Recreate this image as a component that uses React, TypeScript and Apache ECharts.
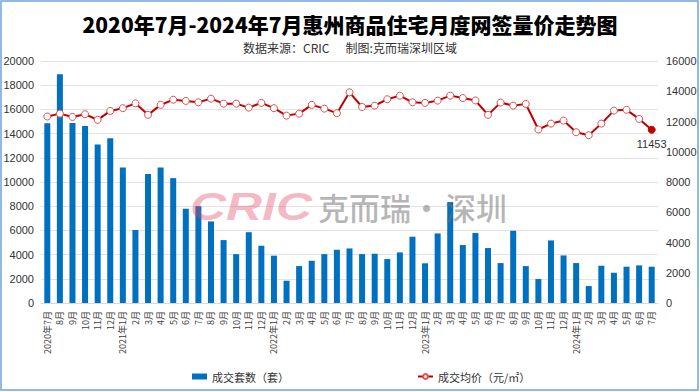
import React, { useEffect, useRef } from "react";
import * as echarts from "echarts";

const months: string[] = [
  "2020年7月", "8月", "9月", "10月", "11月", "12月",
  "2021年1月", "2月", "3月", "4月", "5月", "6月", "7月", "8月", "9月", "10月", "11月", "12月",
  "2022年1月", "2月", "3月", "4月", "5月", "6月", "7月", "8月", "9月", "10月", "11月", "12月",
  "2023年1月", "2月", "3月", "4月", "5月", "6月", "7月", "8月", "9月", "10月", "11月", "12月",
  "2024年1月", "2月", "3月", "4月", "5月", "6月", "7月",
];

const volume: number[] = [
  14850, 18900, 14880, 14630, 13090, 13620,
  11200, 6030, 10670, 11200, 10320, 7790, 8000, 6740, 5200, 4040, 5850, 4730,
  3910, 1840, 3050, 3490, 4040, 4400, 4510, 4040, 4070, 3630, 4180, 5480,
  3280, 5750, 8340, 4790, 5780, 4540, 3300, 5970, 3050, 1980, 5170, 3930,
  3300, 1400, 3080, 2500, 3000, 3110, 3000,
];

const price: number[] = [
  12330, 12520, 12300, 12480, 12110, 12700,
  12880, 13200, 12440, 13100, 13440, 13360, 13270, 13510, 13180, 13180, 12920, 13230,
  12880, 12390, 12520, 13100, 12850, 12550, 13930, 12960, 13050, 13470, 13710, 13270,
  13230, 13380, 13710, 13550, 13390, 12440, 13250, 13050, 13160, 11470, 11860, 12060,
  11290, 11090, 11860, 12720, 12770, 12170, 11453,
];

const leftTicks = { min: 0, max: 20000, interval: 2000 };
const rightTicks = { min: 0, max: 16000, interval: 2000 };

const titleText = "2020年7月-2024年7月惠州商品住宅月度网签量价走势图";
const subText = "数据来源：CRIC      制图:克而瑞深圳区域";
const barName = "成交套数（套）";
const lineName = "成交均价（元/㎡）";

export default function App() {
  const ref = useRef<HTMLDivElement>(null);
  useEffect(() => {
    document.body.style.margin = "0";
    const chart = echarts.init(ref.current!, null, { renderer: "svg" });
    const lastIdx = price.length - 1;
    const plain = (v: number) => String(v);
    chart.setOption({
      animation: false,
      backgroundColor: "#ffffff",
      textStyle: { fontFamily: "'Noto Sans CJK SC', 'Liberation Sans', sans-serif" },
      title: [
        {
          text: titleText,
          left: "center",
          top: 8,
          textStyle: { fontSize: 21, fontWeight: 900, color: "#000", fontFamily: "'Noto Sans CJK SC', sans-serif" },
        },
        {
          text: subText,
          left: "center",
          top: 36,
          textStyle: { fontSize: 12, fontWeight: "normal", color: "#333", fontFamily: "'Noto Sans CJK SC', sans-serif" },
        },
      ],
      legend: {
        left: 187,
        top: 366,
        itemGap: 128,
        itemWidth: 15,
        itemHeight: 6,
        textStyle: { fontSize: 11, color: "#333" },
        data: [
          { name: barName, icon: "rect" },
          { name: lineName },
        ],
      },
      grid: { left: 41, right: 42, top: 61, bottom: 89 },
      xAxis: {
        type: "category",
        data: months,
        axisLine: { lineStyle: { color: "#d9d9d9" } },
        axisTick: { show: false },
        axisLabel: { interval: 0, rotate: 90, fontSize: 9, color: "#404040", margin: 8 },
      },
      yAxis: [
        {
          type: "value",
          min: leftTicks.min,
          max: leftTicks.max,
          interval: leftTicks.interval,
          axisLine: { show: false },
          axisTick: { show: false },
          axisLabel: { fontSize: 11, color: "#333", margin: 7, formatter: plain, fontFamily: "'Liberation Sans', sans-serif" },
          splitLine: { lineStyle: { color: "#e3e3e3" } },
        },
        {
          type: "value",
          min: rightTicks.min,
          max: rightTicks.max,
          interval: rightTicks.interval,
          axisLine: { show: false },
          axisTick: { show: false },
          axisLabel: { fontSize: 11, color: "#333", margin: 8, formatter: plain, fontFamily: "'Liberation Sans', sans-serif" },
          splitLine: { show: false },
        },
      ],
      series: [
        {
          name: barName,
          type: "bar",
          data: volume,
          barWidth: 6,
          itemStyle: { color: "#0070c0" },
          z: 2,
        },
        {
          name: lineName,
          type: "line",
          yAxisIndex: 1,
          data: price.map((v, i) =>
            i === lastIdx
              ? {
                  value: v,
                  itemStyle: { color: "#c00000", borderColor: "#c00000" },
                  label: { show: true, position: "bottom", distance: 5, fontSize: 11, color: "#333", fontFamily: "'Liberation Sans', sans-serif" },
                }
              : v
          ),
          symbol: "circle",
          symbolSize: 7,
          lineStyle: { color: "#c00000", width: 2 },
          itemStyle: { color: "#ffffff", borderColor: "#e05050", borderWidth: 1 },
          z: 4,
        },
      ],
      graphic: [
        {
          type: "text",
          x: 190,
          y: 206,
          scaleX: 1.28,
          z: 10,
          style: {
            text: "CRIC",
            fill: "rgba(228,70,100,0.38)",
            font: "italic bold 39px 'Liberation Sans', sans-serif",
            verticalAlign: "middle",
          },
        },
        {
          type: "text",
          x: 318,
          y: 206,
          z: 10,
          style: {
            text: "克而瑞·",
            fill: "rgba(110,110,110,0.5)",
            font: "500 31px 'Noto Sans CJK SC', sans-serif",
            verticalAlign: "middle",
          },
        },
        {
          type: "text",
          x: 445,
          y: 206,
          z: 10,
          style: {
            text: "深圳",
            fill: "rgba(110,110,110,0.5)",
            font: "500 31px 'Noto Sans CJK SC', sans-serif",
            verticalAlign: "middle",
          },
        },
        {
          type: "rect",
          z: 20,
          shape: { x: 1, y: 1, width: 697, height: 389 },
          style: { fill: "none", stroke: "#6fa3d8", lineWidth: 1.5 },
        },
      ],
    });
    return () => chart.dispose();
  }, []);
  return (
    <div
      ref={ref}
      style={{ position: "fixed", left: 0, top: 0, width: 700, height: 392 }}
    />
  );
}
